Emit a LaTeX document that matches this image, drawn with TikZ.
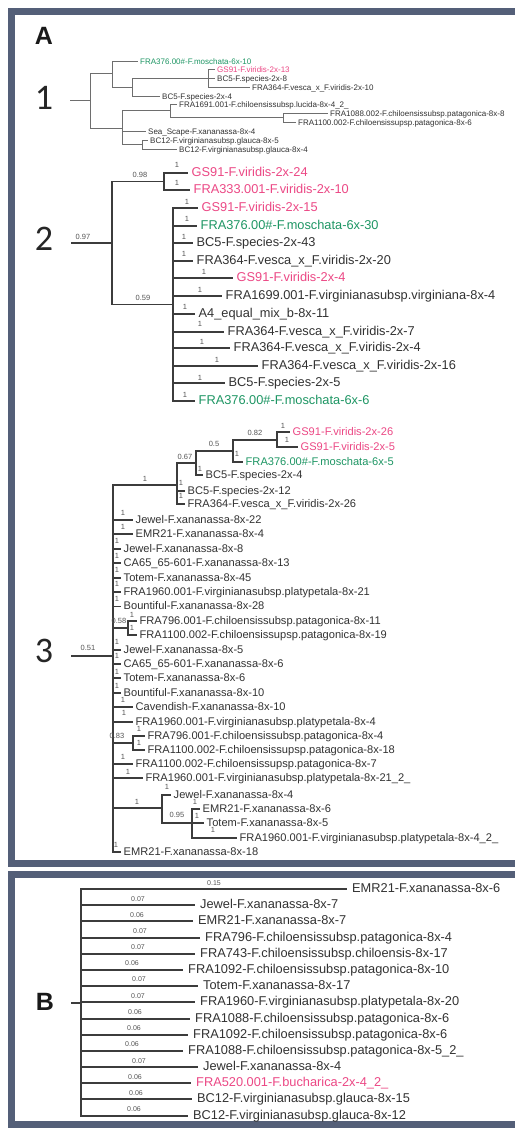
\documentclass[tikz,border=0pt]{standalone}
\usepackage{fontspec}
\setmainfont{Liberation Sans}
\newfontfamily\numfont{Carlito}
\definecolor{framec}{RGB}{84,95,120}
\definecolor{txt}{RGB}{50,50,50}
\definecolor{lnc}{RGB}{60,60,60}
\definecolor{lnlight}{RGB}{110,110,110}
\definecolor{pinkc}{RGB}{236,72,133}
\definecolor{greenc}{RGB}{30,150,100}
\definecolor{bsc}{RGB}{85,85,85}
\tikzset{
 leafbase/.style={anchor=west, text=txt, inner ysep=0pt, text height=.85em, text depth=.2em},
 leafA/.style={leafbase, font=\fontsize{8}{9}\selectfont, inner xsep=2pt},
 leafB/.style={leafbase, font=\fontsize{12.8}{14}\selectfont, inner xsep=3.5pt},
 leafC/.style={leafbase, font=\fontsize{11.1}{12}\selectfont, inner xsep=2.5pt},
 leafD/.style={leafbase, font=\fontsize{12.8}{14}\selectfont, inner xsep=5pt},
 pk/.style={text=pinkc}, gr/.style={text=greenc},
 bs/.style={text=bsc, inner sep=0pt, font=\fontsize{7.5}{8}\selectfont},
 bsB/.style={text=bsc, inner sep=0pt, font=\fontsize{7}{8}\selectfont},
 brA/.style={draw=lnlight, line width=0.9pt},
 brB/.style={draw=lnc, line width=1.6pt},
 bignum/.style={font=\numfont\fontsize{36}{40}\selectfont, text=black!85, inner sep=0pt},
 panlbl/.style={font=\bfseries\fontsize{25}{28}\selectfont, text=black!90, inner sep=0pt}
}
\begin{document}
\begin{tikzpicture}[x=1pt,y=-1pt]
\useasboundingbox (0,0) rectangle (514,1131);
\fill[white] (0,0) rectangle (514,1131);
% frames
\draw[framec, line width=7pt] (11.5,11.5) rectangle (530,863.5);
\draw[framec, line width=7pt] (11.5,874.5) rectangle (530,1124.5);
% panel labels
\node[panlbl] (labA) at (44,36) {A};
\node[panlbl] (labB) at (45,1002) {B};
\node[bignum] (lab1) at (44,98) {1};
\node[bignum] (lab2) at (44,239) {2};
\node[bignum] (lab3) at (44,651) {3};

%%%%% Panel 1
\coordinate (p1s) at (70,100);
\coordinate (p1r) at (90,100);
\coordinate (p1U) at (112,73.5);
\coordinate (p1V) at (132,87);
\coordinate (p1W) at (208,78);
\coordinate (p1L) at (122,128);
\coordinate (p1M) at (170,110.5);
\coordinate (p1P) at (283,117.5);
\coordinate (p1N) at (142,144.5);
\node[leafA,gr] (l1a) at (138,61) {FRA376.00\#-F.moschata-6x-10};
\node[leafA,pk] (l1b) at (215,69) {GS91-F.viridis-2x-13};
\node[leafA] (l1c) at (215,78) {BC5-F.species-2x-8};
\node[leafA] (l1d) at (250,87) {FRA364-F.vesca\_x\_F.viridis-2x-10};
\node[leafA] (l1e) at (160,96) {BC5-F.species-2x-4};
\node[leafA] (l1f) at (177,104) {FRA1691.001-F.chiloensissubsp.lucida-8x-4\_2\_};
\node[leafA] (l1g) at (328,113) {FRA1088.002-F.chiloensissubsp.patagonica-8x-8};
\node[leafA] (l1h) at (296,122) {FRA1100.002-F.chiloensissupsp.patagonica-8x-6};
\node[leafA] (l1i) at (146,131) {Sea\_Scape-F.xananassa-8x-4};
\node[leafA] (l1j) at (148,140) {BC12-F.virginianasubsp.glauca-8x-5};
\node[leafA] (l1k) at (177,149) {BC12-F.virginianasubsp.glauca-8x-4};
\draw[brA] (p1s) -- (p1r);
\foreach \a/\b in {p1r/p1U, p1r/p1L, p1U/l1a.west, p1U/p1V, p1V/p1W, p1V/l1e.west,
  p1W/l1b.west, p1W/l1c.west, p1W/l1d.west, p1L/p1M, p1L/l1i.west, p1L/p1N,
  p1M/l1f.west, p1M/p1P, p1P/l1g.west, p1P/l1h.west, p1N/l1j.west, p1N/l1k.west}
  \draw[brA] (\a) |- (\b);

%%%%% Panel 2
\coordinate (p2s) at (71,243);
\coordinate (p2r) at (112,243);
\coordinate (p2a) at (164,181.5);
\coordinate (p2b) at (173,304.5);
\node[leafB,pk] (l2a) at (188,173) {GS91-F.viridis-2x-24};
\node[leafB,pk] (l2b) at (190,190) {FRA333.001-F.viridis-2x-10};
\node[leafB,pk] (l2c) at (198,208) {GS91-F.viridis-2x-15};
\node[leafB,gr] (l2d) at (197,226) {FRA376.00\#-F.moschata-6x-30};
\node[leafB] (l2e) at (193,243) {BC5-F.species-2x-43};
\node[leafB] (l2f) at (193,261) {FRA364-F.vesca\_x\_F.viridis-2x-20};
\node[leafB,pk] (l2g) at (233,278) {GS91-F.viridis-2x-4};
\node[leafB] (l2h) at (222,296) {FRA1699.001-F.virginianasubsp.virginiana-8x-4};
\node[leafB] (l2i) at (195,314) {A4\_equal\_mix\_b-8x-11};
\node[leafB] (l2j) at (224,332) {FRA364-F.vesca\_x\_F.viridis-2x-7};
\node[leafB] (l2k) at (230,348) {FRA364-F.vesca\_x\_F.viridis-2x-4};
\node[leafB] (l2l) at (258,366) {FRA364-F.vesca\_x\_F.viridis-2x-16};
\node[leafB] (l2m) at (225,383) {BC5-F.species-2x-5};
\node[leafB,gr] (l2n) at (195,401) {FRA376.00\#-F.moschata-6x-6};
\draw[brB] (p2s) -- (p2r);
\foreach \a/\b in {p2r/p2a, p2r/p2b, p2a/l2a.west, p2a/l2b.west,
  p2b/l2c.west, p2b/l2d.west, p2b/l2e.west, p2b/l2f.west, p2b/l2g.west, p2b/l2h.west,
  p2b/l2i.west, p2b/l2j.west, p2b/l2k.west, p2b/l2l.west, p2b/l2m.west, p2b/l2n.west}
  \draw[brB] (\a) |- (\b);
\node[bs] (b2r) at (83,237) {0.97};
\node[bs] (b2a) at (140,175) {0.98};
\node[bs] (b2b) at (143,298) {0.59};
\foreach \x/\y [count=\i] in {177/165, 177/183, 187/202, 187/219, 184/237, 184/254, 204/272,
  200/290, 185/307, 200/324, 202/342, 217/360, 200/378, 185/395}
  \node[bs] (b2l\i) at (\x,\y) {1};

%%%%% Panel 3
\coordinate (p3s) at (71,656);
\coordinate (p3R) at (113,656);
\coordinate (p3W) at (177,485);
\coordinate (p3Z) at (196,463);
\coordinate (p3Y) at (233,451);
\coordinate (p3X) at (277,440);
\coordinate (p3h) at (128,628);
\coordinate (p3o) at (133,743);
\coordinate (p3S) at (162,808);
\coordinate (p3T) at (192,823);
\node[leafC,pk] (l3a) at (290,432) {GS91-F.viridis-2x-26};
\node[leafC,pk] (l3b) at (298,447) {GS91-F.viridis-2x-5};
\node[leafC,gr] (l3c) at (243,462) {FRA376.00\#-F.moschata-6x-5};
\node[leafC] (l3d) at (203,475) {BC5-F.species-2x-4};
\node[leafC] (l3e) at (185,491) {BC5-F.species-2x-12};
\node[leafC] (l3f) at (185,504) {FRA364-F.vesca\_x\_F.viridis-2x-26};
\node[leafC] (l3g) at (133,520) {Jewel-F.xananassa-8x-22};
\node[leafC] (l3h) at (133,534) {EMR21-F.xananassa-8x-4};
\node[leafC] (l3i) at (121,549) {Jewel-F.xananassa-8x-8};
\node[leafC] (l3j) at (121,563) {CA65\_65-601-F.xananassa-8x-13};
\node[leafC] (l3k) at (121,578) {Totem-F.xananassa-8x-45};
\node[leafC] (l3l) at (121,592) {FRA1960.001-F.virginianasubsp.platypetala-8x-21};
\node[leafC] (l3m) at (121,606.5) {Bountiful-F.xananassa-8x-28};
\node[leafC] (l3n) at (137,621) {FRA796.001-F.chiloensissubsp.patagonica-8x-11};
\node[leafC] (l3o) at (137,635) {FRA1100.002-F.chiloensissupsp.patagonica-8x-19};
\node[leafC] (l3p) at (121,650) {Jewel-F.xananassa-8x-5};
\node[leafC] (l3q) at (121,664) {CA65\_65-601-F.xananassa-8x-6};
\node[leafC] (l3r) at (121,678) {Totem-F.xananassa-8x-6};
\node[leafC] (l3s) at (121,693) {Bountiful-F.xananassa-8x-10};
\node[leafC] (l3t) at (133,707) {Cavendish-F.xananassa-8x-10};
\node[leafC] (l3u) at (133,722) {FRA1960.001-F.virginianasubsp.platypetala-8x-4};
\node[leafC] (l3v) at (145,736) {FRA796.001-F.chiloensissubsp.patagonica-8x-4};
\node[leafC] (l3w) at (145,750) {FRA1100.002-F.chiloensissupsp.patagonica-8x-18};
\node[leafC] (l3x) at (133,764) {FRA1100.002-F.chiloensissupsp.patagonica-8x-7};
\node[leafC] (l3y) at (143,778) {FRA1960.001-F.virginianasubsp.platypetala-8x-21\_2\_};
\node[leafC] (l3z) at (171,795) {Jewel-F.xananassa-8x-4};
\node[leafC] (l3aa) at (200,809) {EMR21-F.xananassa-8x-6};
\node[leafC] (l3ab) at (204,823) {Totem-F.xananassa-8x-5};
\node[leafC] (l3ac) at (237,838) {FRA1960.001-F.virginianasubsp.platypetala-8x-4\_2\_};
\node[leafC] (l3ad) at (121,852) {EMR21-F.xananassa-8x-18};
\draw[brB] (p3s) -- (p3R);
\foreach \a/\b in {p3R/p3W, p3W/p3Z, p3W/l3e.west, p3W/l3f.west, p3Z/p3Y, p3Z/l3d.west,
  p3Y/p3X, p3Y/l3c.west, p3X/l3a.west, p3X/l3b.west,
  p3R/l3g.west, p3R/l3h.west, p3R/l3i.west, p3R/l3j.west, p3R/l3k.west, p3R/l3l.west,
  p3R/l3m.west, p3R/p3h, p3h/l3n.west, p3h/l3o.west, p3R/l3p.west, p3R/l3q.west,
  p3R/l3r.west, p3R/l3s.west, p3R/l3t.west, p3R/l3u.west, p3R/p3o, p3o/l3v.west,
  p3o/l3w.west, p3R/l3x.west, p3R/l3y.west, p3R/p3S, p3S/l3z.west, p3S/p3T,
  p3T/l3aa.west, p3T/l3ab.west, p3T/l3ac.west, p3R/l3ad.west}
  \draw[brB] (\a) |- (\b);
\node[bs] (b3r) at (88,648) {0.51};
\node[bs] (b3x) at (255,433) {0.82};
\node[bs] (b3y) at (214,444) {0.5};
\node[bs] (b3z) at (185,457) {0.67};
\node[bs] (b3h) at (119,621) {0.58};
\node[bs] (b3o) at (117,736) {0.83};
\node[bs] (b3t) at (177,815) {0.95};
\foreach \x/\y [count=\i] in {283/426, 287/440, 237/454, 200/469, 181/483, 181/496, 145/479,
  123/513, 123/527, 117/541, 117/556, 117/570, 117/584, 117/599, 132/614.5, 132/628,
  117/642, 117/656, 117/672, 117/686, 123/700, 124/713, 139/729, 139/743, 123/757,
  128/772, 137/802, 167/787, 195/802, 197/816, 213/830, 116/845}
  \node[bs] (b3l\i) at (\x,\y) {1};

%%%%% Panel B
\coordinate (pBs) at (71,1003);
\coordinate (pBr) at (81,1003);
\node[leafD] (lBa) at (347,889) {EMR21-F.xananassa-8x-6};
\node[leafD] (lBb) at (195,905) {Jewel-F.xananassa-8x-7};
\node[leafD] (lBc) at (193,921) {EMR21-F.xananassa-8x-7};
\node[leafD] (lBd) at (200,938) {FRA796-F.chiloensissubsp.patagonica-8x-4};
\node[leafD] (lBe) at (195,954) {FRA743-F.chiloensissubsp.chiloensis-8x-17};
\node[leafD] (lBf) at (183,970) {FRA1092-F.chiloensissubsp.patagonica-8x-10};
\node[leafD] (lBg) at (198,986) {Totem-F.xananassa-8x-17};
\node[leafD] (lBh) at (195,1002) {FRA1960-F.virginianasubsp.platypetala-8x-20};
\node[leafD] (lBi) at (190,1019) {FRA1088-F.chiloensissubsp.patagonica-8x-6};
\node[leafD] (lBj) at (188,1035) {FRA1092-F.chiloensissubsp.patagonica-8x-6};
\node[leafD] (lBk) at (183,1051) {FRA1088-F.chiloensissubsp.patagonica-8x-5\_2\_};
\node[leafD] (lBl) at (198,1067) {Jewel-F.xananassa-8x-4};
\node[leafD,pk] (lBm) at (191,1083) {FRA520.001-F.bucharica-2x-4\_2\_};
\node[leafD] (lBn) at (192,1099) {BC12-F.virginianasubsp.glauca-8x-15};
\node[leafD] (lBo) at (188,1116) {BC12-F.virginianasubsp.glauca-8x-12};
\draw[brB] (pBs) -- (pBr);
\foreach \b in {lBa,lBb,lBc,lBd,lBe,lBf,lBg,lBh,lBi,lBj,lBk,lBl,lBm,lBn,lBo}
  \draw[brB] (pBr) |- (\b.west);
\foreach \t/\x/\y [count=\i] in {0.15/214/883, 0.07/138/899, 0.06/137/915, 0.07/140/931,
  0.07/138/947, 0.06/132/963, 0.07/139/979, 0.07/138/996, 0.06/135/1012, 0.06/134/1028,
  0.06/132/1044, 0.07/139/1061, 0.06/135/1077, 0.06/136/1093, 0.06/134/1109}
  \node[bsB] (bB\i) at (\x,\y) {\t};
\end{tikzpicture}
\end{document}
